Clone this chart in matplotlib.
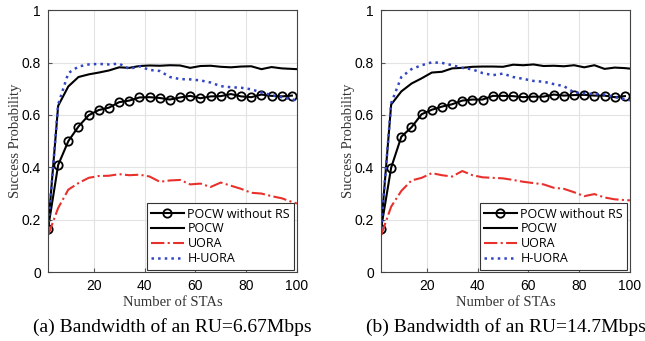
import numpy as np
import matplotlib.pyplot as plt

sta = [2, 6, 10, 14, 18, 22, 26, 30, 34, 38, 42, 46, 50, 54, 58, 62, 66, 70, 74, 78, 82, 86, 90, 94, 98, 100]

# (a) RU = 6.67 Mbps
a_norm = [0.165, 0.409, 0.500, 0.556, 0.599, 0.619, 0.628, 0.649, 0.655, 0.667, 0.668, 0.665, 0.659,
          0.667, 0.673, 0.664, 0.671, 0.672, 0.680, 0.671, 0.668, 0.678, 0.673, 0.671, 0.674, 0.674]
a_pocw = [0.165, 0.635, 0.709, 0.745, 0.755, 0.762, 0.770, 0.782, 0.780, 0.787, 0.789, 0.788, 0.790,
          0.789, 0.780, 0.787, 0.788, 0.784, 0.782, 0.785, 0.786, 0.775, 0.783, 0.778, 0.776, 0.775]
a_uora = [0.140, 0.245, 0.315, 0.340, 0.360, 0.367, 0.368, 0.374, 0.370, 0.372, 0.365, 0.345, 0.350,
          0.352, 0.335, 0.338, 0.325, 0.342, 0.330, 0.318, 0.303, 0.300, 0.290, 0.282, 0.268, 0.262]
a_huora = [0.165, 0.640, 0.760, 0.785, 0.793, 0.795, 0.793, 0.796, 0.776, 0.786, 0.772, 0.768, 0.745,
           0.737, 0.736, 0.732, 0.724, 0.710, 0.706, 0.704, 0.698, 0.686, 0.676, 0.668, 0.660, 0.655]

# (b) RU = 14.7 Mbps
b_norm = [0.165, 0.399, 0.517, 0.553, 0.603, 0.620, 0.632, 0.641, 0.655, 0.659, 0.659, 0.673, 0.673,
          0.672, 0.668, 0.670, 0.670, 0.678, 0.674, 0.676, 0.677, 0.674, 0.674, 0.668, 0.672, 0.672]
b_pocw = [0.165, 0.640, 0.690, 0.720, 0.740, 0.762, 0.765, 0.778, 0.780, 0.784, 0.785, 0.785, 0.784,
          0.792, 0.790, 0.793, 0.787, 0.788, 0.786, 0.790, 0.782, 0.790, 0.776, 0.781, 0.779, 0.777]
b_uora = [0.140, 0.250, 0.310, 0.350, 0.360, 0.378, 0.370, 0.365, 0.386, 0.370, 0.362, 0.360, 0.358,
          0.352, 0.345, 0.340, 0.335, 0.322, 0.318, 0.305, 0.290, 0.298, 0.285, 0.278, 0.275, 0.274]
b_huora = [0.165, 0.645, 0.745, 0.775, 0.790, 0.801, 0.799, 0.790, 0.780, 0.774, 0.760, 0.752, 0.758,
           0.745, 0.738, 0.730, 0.727, 0.718, 0.710, 0.686, 0.683, 0.680, 0.678, 0.668, 0.660, 0.656]

captions = ['(a) Bandwidth of an RU=6.67Mbps', '(b) Bandwidth of an RU=14.7Mbps']
sans = ['Liberation Sans', 'DejaVu Sans']
serif = ['Liberation Serif', 'DejaVu Serif']


def draw(ax, norm, pocw, uora, huora, caption):
    ax.plot(sta[:-1], norm[:-1], color='black', lw=1.5, marker='o', ms=6, mfc='none', mew=1.3,
            label='POCW without RS')
    ax.plot(sta, pocw, color='black', lw=1.5, label='POCW')
    ax.plot(sta, uora, color='#e8312c', lw=1.5, ls='-.', label='UORA')
    ax.plot(sta, huora, color='#3246c4', lw=1.8, ls=':', label='H-UORA')
    ax.set_xlim(2, 100)
    ax.set_ylim(0, 1)
    ax.set_xticks([20, 40, 60, 80, 100])
    ax.set_yticks([0, 0.2, 0.4, 0.6, 0.8, 1])
    ax.set_yticklabels(['0', '0.2', '0.4', '0.6', '0.8', '1'])
    ax.grid(True, color='#e3e3e3', lw=0.8)
    ax.set_axisbelow(True)
    ax.tick_params(direction='in', length=3, color='#555555', labelsize=10, pad=5)
    for lab in ax.get_xticklabels() + ax.get_yticklabels():
        lab.set_family(sans)
    for sp in ax.spines.values():
        sp.set_color('#444444')
        sp.set_linewidth(0.8)
    ax.set_xlabel('Number of STAs', family=serif, fontsize=10.5, labelpad=2, color='#333333')
    ax.set_ylabel('Success Probability', family=serif, fontsize=10.5, labelpad=0, color='#333333')
    leg = ax.legend(loc='lower right', prop={'family': ['Open Sans', 'DejaVu Sans'], 'size': 9},
                    handlelength=2.6, handletextpad=0.3, labelspacing=0.15, borderpad=0.35,
                    fancybox=False, framealpha=1, borderaxespad=0.2)
    leg.get_frame().set_edgecolor('#333333')
    leg.get_frame().set_linewidth(0.8)
    ax.text(0.5, -0.175, caption, transform=ax.transAxes, ha='center', va='top',
            family=serif, fontsize=14)


def main():
    fig = plt.figure(figsize=(6.45, 3.41), dpi=100)
    ax1 = fig.add_axes([0.0744, 0.202, 0.386, 0.768])
    ax2 = fig.add_axes([0.5907, 0.202, 0.386, 0.768])
    draw(ax1, a_norm, a_pocw, a_uora, a_huora, captions[0])
    draw(ax2, b_norm, b_pocw, b_uora, b_huora, captions[1])
    fig.savefig('out.png', dpi=100)


main()
